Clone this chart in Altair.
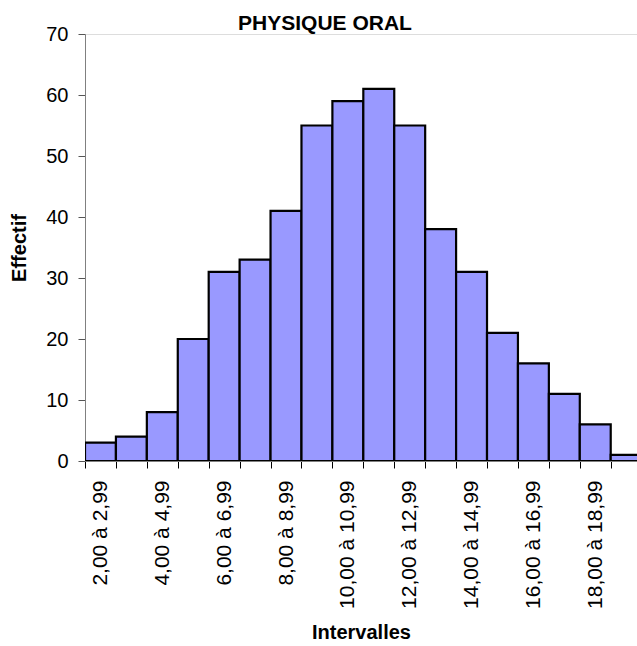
import altair as alt
import pandas as pd

intervals = ["2,00 à 2,99", "3,00 à 3,99", "4,00 à 4,99", "5,00 à 5,99",
             "6,00 à 6,99", "7,00 à 7,99", "8,00 à 8,99", "9,00 à 9,99",
             "10,00 à 10,99", "11,00 à 11,99", "12,00 à 12,99", "13,00 à 13,99",
             "14,00 à 14,99", "15,00 à 15,99", "16,00 à 16,99", "17,00 à 17,99",
             "18,00 à 18,99", "19,00 à 19,99"]
effectif = [3, 4, 8, 20, 31, 33, 41, 55, 59, 61, 55, 38, 31, 21, 16, 11, 6, 1]
y_ticks = [0, 10, 20, 30, 40, 50, 60, 70]

df = pd.DataFrame({
    "Intervalle": intervals,
    "start": list(range(len(intervals))),
    "end": [i + 1 for i in range(len(intervals))],
    "Effectif": effectif,
})

FONT = "Liberation Sans"
js_labels = "[" + ",".join("'" + s + "'" for s in intervals) + "]"
label_expr = f"(datum.value % 2 === 0.5) ? {js_labels}[floor(datum.value)] : ''"
x_vals = [k * 0.5 for k in range(0, 36)]

chart = alt.Chart(df).mark_bar(
    color="#9999FF", stroke="black", strokeWidth=2.2, clip=True
).encode(
    x=alt.X("start:Q",
            scale=alt.Scale(domain=[0, 17.85], nice=False, zero=False),
            axis=alt.Axis(
                title="Intervalles", values=x_vals, labelExpr=label_expr,
                labelAngle=270, labelFontSize=21, labelFont=FONT, labelColor="black",
                labelPadding=12, labelOverlap=False, labelBound=False, labelFlush=False,
                tickSize=7, tickColor="black",
                tickOpacity={"condition": {"test": "datum.value % 1 === 0", "value": 1}, "value": 0},
                domainColor="#808080", grid=False,
                titleFont=FONT, titleFontSize=20, titleFontWeight="bold", titleColor="black",
                titlePadding=14)),
    x2="end:Q",
    y=alt.Y("Effectif:Q",
            scale=alt.Scale(domain=[0, 70], nice=False),
            axis=alt.Axis(
                title="Effectif", values=y_ticks, labelFontSize=20, labelFont=FONT,
                labelColor="black", labelPadding=10, tickSize=7, tickColor="#555",
                domainColor="#808080", grid=False,
                titleFont=FONT, titleFontSize=20, titleFontWeight="bold", titleColor="black",
                titlePadding=16)),
    y2=alt.datum(0),
).properties(
    width=552, height=427,
    title=alt.TitleParams("PHYSIQUE ORAL", font=FONT, fontSize=21, fontWeight="bold",
                          color="black", anchor="middle", dx=-36, dy=12, offset=2),
    autosize=alt.AutoSizeParams(type="none"),
    padding={"left": 85, "top": 34, "right": 0, "bottom": 185},
).configure_view(stroke=None).configure(background="white")

chart.save("out.html", embed_options={"renderer": "svg", "actions": False})
